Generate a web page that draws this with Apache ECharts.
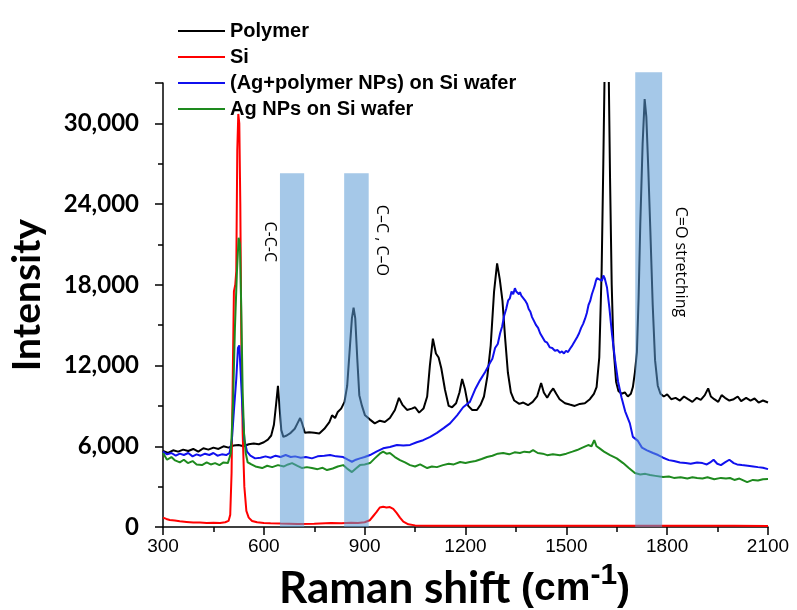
<!DOCTYPE html>
<html>
<head>
<meta charset="utf-8">
<script src="https://cdn.jsdelivr.net/npm/echarts@6/dist/echarts.min.js"></script>
<style>
  html, body { margin: 0; padding: 0; background: #fff; }
  #chart { width: 797px; height: 610px; }
</style>
</head>
<body>
<div id="chart"></div>
<script>
// Raman shift (cm-1) and intensity
const polymerX = [300,315,330,345,360,375,390,405,420,435,450,465,480,495,510,525,540,555,570,585,600,612,622,630,636,642,647,652,658,668,680,692,700,708,714,722,735,750,765,780,795,803,812,820,830,840,848,855,862,867,872,878,884,892,901,915,930,945,960,975,990,1002,1012,1026,1040,1050,1062,1075,1086,1094,1103,1112,1120,1128,1139,1150,1160,1172,1182,1190,1198,1208,1220,1234,1245,1255,1265,1275,1285,1294,1302,1310,1318,1326,1335,1345,1360,1372,1386,1400,1413,1425,1433,1443,1452,1461,1470,1480,1496,1510,1525,1540,1555,1570,1582,1590,1598,1605,1610,1614,1620,1626,1630,1635,1640,1648,1655,1664,1674,1683,1692,1698,1704,1710,1715,1720,1727,1733,1738,1744,1750,1757,1764,1772,1780,1790,1800,1812,1825,1838,1850,1862,1875,1888,1900,1912,1922,1930,1940,1952,1962,1972,1985,1998,2010,2020,2035,2048,2060,2072,2085,2100];
const polymerY = [5650,5500,5700,5600,5750,5650,5800,5600,5850,5750,5900,5800,6000,5900,6050,6100,6000,6150,6200,6150,6300,6500,6800,7600,9000,10500,8800,7200,6700,6800,7000,7300,7700,8100,7700,7000,7050,7000,6950,7300,7800,8300,8100,8550,8800,9300,10500,13000,15500,16300,15500,12500,9800,9000,8300,8000,7700,7900,7800,8100,8700,9600,9100,8700,8800,8900,8500,8800,9700,12000,14000,12900,12600,11800,10200,9000,8900,9200,10000,11000,10300,9000,8700,8700,9100,9700,11200,13500,17500,19600,18400,16800,14000,11500,10000,9400,9150,9250,9050,9300,9700,10700,10000,9600,10000,10300,9900,9500,9200,9100,9000,9150,9200,9500,9900,10400,12600,19000,27000,34000,38000,34000,26000,18000,13500,10800,10100,9900,10000,9700,9900,10400,11500,13000,17000,22500,28500,31800,30500,26500,22000,16500,12400,10500,9900,9700,9850,9500,9600,9400,9700,9500,9300,9600,9450,9800,10300,9700,9500,9300,9800,9600,9400,9500,9700,9350,9600,9400,9550,9250,9400,9250];

const siX = [300,310,320,335,350,370,390,410,430,450,470,485,495,500,504,508,511,515,518,521,524,527,530,533,537,542,548,555,565,580,600,620,650,700,750,800,830,860,880,900,915,925,935,945,955,965,975,985,995,1005,1015,1030,1050,1100,1200,1300,1400,1500,1600,1700,1800,1900,2000,2100];
const siY = [700,600,520,480,420,380,340,330,300,310,300,350,450,900,4000,12000,17500,18000,19000,28000,30700,30000,24000,14000,7000,3000,1200,700,450,350,300,280,260,230,250,300,280,320,300,350,500,800,1100,1450,1500,1450,1480,1350,1050,700,400,200,120,100,100,90,100,90,100,90,100,90,90,80];

const agPolyX = [300,312,325,338,350,362,375,388,400,412,425,438,450,462,475,488,498,505,512,518,523,527,531,536,542,550,560,574,590,605,620,635,650,665,680,693,710,725,743,760,780,797,815,836,850,862,874,886,900,916,935,955,975,996,1015,1035,1055,1074,1095,1115,1135,1154,1175,1193,1213,1230,1243,1258,1273,1280,1288,1296,1303,1309,1315,1321,1327,1332,1337,1342,1347,1351,1355,1359,1362,1366,1370,1377,1383,1388,1393,1398,1404,1410,1416,1422,1429,1436,1443,1451,1458,1466,1474,1481,1487,1493,1499,1505,1511,1518,1525,1532,1538,1544,1550,1556,1561,1566,1571,1576,1580,1584,1588,1591,1595,1598,1602,1606,1610,1614,1621,1628,1636,1645,1654,1664,1675,1689,1698,1713,1725,1740,1758,1773,1788,1805,1820,1838,1855,1870,1889,1905,1918,1928,1938,1949,1960,1972,1985,1998,2008,2022,2040,2056,2070,2085,2100];
const agPolyY = [5600,5400,5500,5300,5450,5350,5500,5250,5400,5300,5450,5350,5500,5300,5400,5350,5500,6500,9000,11000,13300,13500,11500,9000,6500,5600,5300,5100,5150,5250,5150,5300,5200,5350,5200,5250,5150,5200,5100,5250,5300,5350,5250,5200,5000,4850,5000,5100,5200,5350,5600,5850,5950,6100,6050,6100,6300,6450,6700,7000,7350,7700,8300,8900,9300,10300,10900,11500,12200,12500,13300,13600,14400,14900,15700,16200,16850,17000,17500,17300,17750,17500,17600,17300,17450,17200,17100,16850,16600,16200,16000,15600,15300,15000,14800,14400,14100,13800,13700,13350,13300,13100,13150,12950,13050,12900,13100,13000,13250,13500,13800,14100,14400,14800,15100,15500,15900,16500,16800,17300,17600,17900,18300,18500,18550,18400,18500,18300,18700,18500,17800,16300,14300,12400,10800,9650,8600,7700,6700,6400,5900,5700,5500,5350,5150,4970,4900,4800,4750,4700,4800,4750,4650,4800,5000,4700,4600,4800,5000,4750,4650,4600,4550,4500,4450,4400,4300,4380];

const agX = [300,312,325,336,350,362,374,388,400,416,430,442,455,468,480,493,502,508,514,520,525,529,533,537,541,546,552,560,575,595,610,625,642,660,672,684,700,714,728,743,760,775,788,805,820,836,850,862,874,886,900,916,930,945,955,965,975,990,1005,1020,1035,1050,1065,1086,1100,1115,1133,1150,1165,1184,1200,1213,1230,1248,1264,1280,1296,1312,1330,1346,1362,1375,1390,1401,1415,1430,1443,1460,1481,1500,1518,1532,1548,1565,1575,1583,1590,1598,1612,1630,1650,1669,1685,1704,1720,1735,1749,1765,1788,1805,1820,1840,1860,1875,1889,1905,1920,1940,1960,1975,1987,2000,2015,2038,2055,2070,2085,2100];
const agY = [5500,5000,5200,4950,4800,5000,4750,4900,4650,4600,4800,4650,4750,4600,4800,4750,5500,9000,14800,19000,21500,21000,16000,10000,7000,5500,4800,4700,4500,4380,4550,4450,4600,4500,4650,4750,4550,4380,4450,4380,4300,4400,4230,4350,4500,4600,4300,4080,4350,4600,4650,4750,5100,5450,5600,5450,5500,5200,4970,4800,4600,4500,4650,4380,4500,4450,4600,4700,4650,4830,4750,4830,4900,5050,5200,5300,5450,5500,5400,5550,5500,5600,5550,5720,5500,5450,5340,5400,5340,5450,5600,5720,5900,6090,6000,6460,6000,5860,5600,5340,5100,4750,4400,4010,3900,3950,3860,3800,3710,3750,3650,3700,3600,3700,3640,3600,3700,3550,3650,3600,3640,3500,3600,3340,3500,3450,3550,3560];

// shaded bands: [from, to, top]
const bands = [[648, 720, 26300], [839, 912, 26300], [1705, 1785, 33800]];
// vertical notes: [x, y, text]
const notes = [[618, 21200, 'C-C-C'], [949, 21300, 'C\u2013C , C\u2013O'], [1841, 19700, 'C=O stretching']];

const xTicks = [300, 2100, 300];   // min, max, step
const yTicks = [0, 33000, 6000];

const pairs = (xs, ys) => xs.map((x, i) => [x, ys[i]]);

const myChart = echarts.init(document.getElementById('chart'));

const lineSeries = (name, color, xs, ys) => ({
    name: name,
    type: 'line',
    data: pairs(xs, ys),
    symbol: 'none',
    showSymbol: false,
    smooth: false,
    z: 2,
    lineStyle: { color: color, width: 2 },
    itemStyle: { color: color },
});

const option = {
    animation: false,
    backgroundColor: '#fff',
    grid: { left: 163, right: 29, top: 83, bottom: 83, containLabel: false, outerBoundsMode: 'none' },
    legend: {
        orient: 'vertical',
        left: 173,
        top: 16,
        itemWidth: 47,
        itemHeight: 14,
        itemGap: 6,
        icon: 'path://M0,6 L47,6 L47,8 L0,8 Z',
        textStyle: { fontFamily: 'Liberation Sans', fontWeight: 'bold', fontSize: 20, color: '#000', lineHeight: 20, padding: [0, 0, 0, 0] },
        data: ['Polymer', 'Si', '(Ag+polymer NPs) on Si wafer', 'Ag NPs on Si wafer'],
    },
    xAxis: {
        type: 'value',
        min: xTicks[0],
        max: xTicks[1],
        interval: xTicks[2],
        name: '{a|Raman shift }{b|(cm}{s|-1}{b|)}',
        nameLocation: 'middle',
        nameGap: 20,
        nameTextStyle: {
            padding: [0, 22, 0, 0],
            rich: {
                a: { fontFamily: 'Lato', fontWeight: 'bold', fontSize: 44, color: '#000' },
                b: { fontFamily: 'Liberation Sans', fontWeight: 'bold', fontSize: 39, color: '#000' },
                s: { fontFamily: 'Liberation Sans', fontWeight: 'bold', fontSize: 30, color: '#000', padding: [0, 0, 26, 0] },
            },
        },
        axisLine: { show: true, lineStyle: { color: '#000', width: 1.5 } },
        axisTick: { show: true, length: 8, lineStyle: { color: '#000', width: 1.5 } },
        minorTick: { show: true, splitNumber: 2, length: 5, lineStyle: { color: '#000', width: 1.5 } },
        splitLine: { show: false },
        axisLabel: { fontFamily: 'Liberation Sans', fontSize: 19, color: '#000', margin: 10, formatter: v => String(v) },
    },
    yAxis: {
        type: 'value',
        min: yTicks[0],
        max: yTicks[1],
        interval: yTicks[2],
        name: 'Intensity',
        nameLocation: 'middle',
        nameGap: 116,
        nameTextStyle: { fontFamily: 'Lato', fontWeight: 'bold', fontSize: 39, color: '#000', padding: [0, 0, 0, 20] },
        axisLine: { show: true, lineStyle: { color: '#000', width: 1.5 } },
        axisTick: { show: true, length: 8, lineStyle: { color: '#000', width: 1.5 } },
        minorTick: { show: true, splitNumber: 2, length: 5, lineStyle: { color: '#000', width: 1.5 } },
        splitLine: { show: false },
        axisLabel: {
            fontFamily: 'Lato', fontWeight: 'bold', fontSize: 24, color: '#000', margin: 24,
            formatter: v => (v > 30000 ? '' : v.toLocaleString('en-US')),
        },
    },
    series: [
        lineSeries('Polymer', '#000000', polymerX, polymerY),
        lineSeries('Si', '#ff0000', siX, siY),
        lineSeries('(Ag+polymer NPs) on Si wafer', '#1010ee', agPolyX, agPolyY),
        lineSeries('Ag NPs on Si wafer', '#1e8a1e', agX, agY),
        {
            type: 'custom',
            name: 'bands',
            data: bands,
            encode: { x: [0, 1], y: 2 },
            clip: false,
            z: 5,
            silent: true,
            renderItem: (params, api) => {
                const p0 = api.coord([api.value(0), api.value(2)]);
                const p1 = api.coord([api.value(1), 0]);
                return {
                    type: 'rect',
                    shape: { x: p0[0], y: p0[1], width: p1[0] - p0[0], height: p1[1] - p0[1] },
                    style: { fill: 'rgba(91,155,213,0.55)' },
                };
            },
        },
        {
            type: 'custom',
            name: 'notes',
            data: notes,
            encode: { x: 0, y: 1 },
            clip: false,
            z: 6,
            silent: true,
            renderItem: (params, api) => {
                const p = api.coord([api.value(0), api.value(1)]);
                return {
                    type: 'text',
                    x: p[0],
                    y: p[1],
                    rotation: -Math.PI / 2,
                    style: {
                        text: notes[params.dataIndex][2],
                        fill: '#000',
                        font: '16px "Open Sans"',
                        align: 'center',
                        verticalAlign: 'middle',
                    },
                };
            },
        },
    ],
};

myChart.setOption(option);
window.addEventListener('resize', () => {
    myChart.resize();
});
</script>
</body>
</html>
